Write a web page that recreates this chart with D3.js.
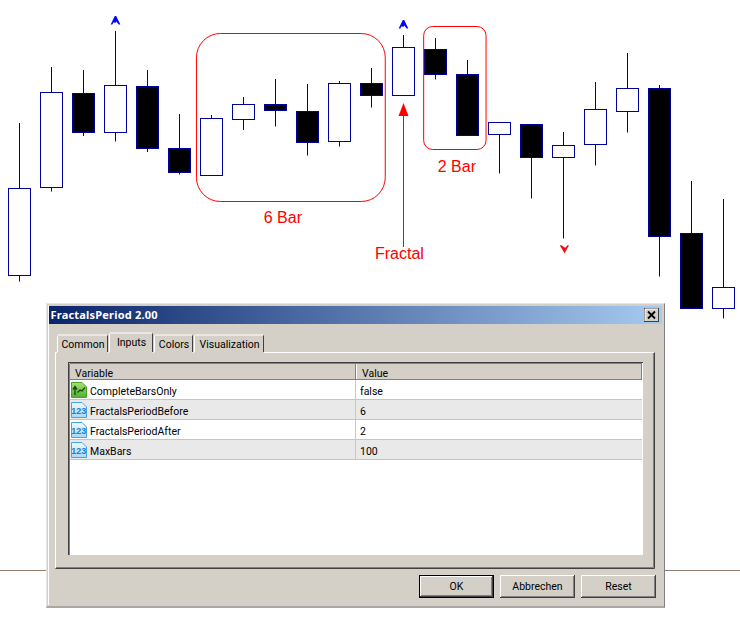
<!DOCTYPE html>
<html><head><meta charset="utf-8">
<script src="https://cdn.jsdelivr.net/npm/d3@7/dist/d3.min.js"></script>
<style>html,body{margin:0;padding:0;background:#fff}svg{display:block}</style>
</head><body><svg id="c" width="740" height="617"></svg>
<script>
// Candle values (chart units)
const highs  = [494,550,547,586,547,503,502,520,538,533,536,549,582,579,557,495,493,485,535,564,532,436,418];
const tops   = [428.5,525,524,532,531,469,498,513,513,506,533,533,569,568,543,495,493,472,508,528,528,383,330];
const bottoms= [341.5,430,485,485,469,444,442,497,507,475,476,521,521,543,482,483,460,460,473,505,381,309,309];
const lows   = [335.5,425.5,481,475.5,465,442.5,442,487,490.5,461.5,470.5,509.5,521,537.5,482,443.5,418.5,378.5,451.5,484.5,340.5,309,298.5];
const filled = [0,0,1,0,1,1,0,0,1,1,0,1,0,1,1,0,1,0,0,0,1,1,0];
const fractalsUp = [3,12];
const fractalsUpLevel = [596.5,592.5];
const fractalsDown = [17];
const fractalsDownLevel = [368];
const boxLabels = ["6 Bar","2 Bar"];
const boxFrom = [5.53,12.63];
const boxTo = [11.43,14.58];
const boxTop = [583.5,590.5];
const boxBottom = [415.5,467.5];
const boxRadius = [24,9];
const boxLabelLevel = [394,445];
const tabs = ["Common","Inputs","Colors","Visualization"];
const variables = ["CompleteBarsOnly","FractalsPeriodBefore","FractalsPeriodAfter","MaxBars"];
const values = ["false","6","2","100"];
const buttons = ["OK","Abbrechen","Reset"];
const columns = ["Variable","Value"];

const svg = d3.select("#c");
const x = d3.scaleLinear().domain([0,22]).range([19.5,723.5]);
const y = d3.scaleLinear().domain([0,617]).range([617,0]);
const crisp = v => Math.floor(y(v)) + .5;
const NAVY="#00009c", RED="#ff0000", FACE="#d4d0c8";

svg.append("line").attr("x1",0).attr("x2",740).attr("y1",y(46.5)).attr("y2",y(46.5)).attr("stroke","#8f7f70");

const c = svg.append("g").selectAll("g").data(highs).join("g");
c.append("line").attr("x1",(d,i)=>x(i)).attr("x2",(d,i)=>x(i))
 .attr("y1",d=>y(d)).attr("y2",(d,i)=>y(lows[i])).attr("stroke",NAVY);
c.append("rect").attr("x",(d,i)=>x(i)-11).attr("width",22)
 .attr("y",(d,i)=>crisp(tops[i])).attr("height",(d,i)=>crisp(bottoms[i])-crisp(tops[i]))
 .attr("fill",(d,i)=>filled[i]?"#000":"#fff").attr("stroke",NAVY)
 .attr("stroke-width",1);

// fractal marks
svg.append("g").selectAll("path").data(fractalsUp).join("path")
 .attr("transform",(d,i)=>`translate(${x(d)},${y(fractalsUpLevel[i])})`)
 .attr("d","M-.7,-4.5H.7L4.8,4H3.2L1,1.3H.5L-.2,2.5L-2,1.8L-3.2,4H-4.8Z").attr("fill","#0000ff");
svg.append("g").selectAll("path").data(fractalsDown).join("path")
 .attr("transform",(d,i)=>`translate(${x(d)+1},${y(fractalsDownLevel[i])})`)
 .attr("d","M0,4.5L4.5,-3.8H3L.8,-1.2L-.2,-1.8L-3,-3.8H-4.8L-1,2.5Z").attr("fill","#f01010");

// annotations
const b = svg.append("g").selectAll("g").data(boxLabels).join("g");
b.append("rect").attr("x",(d,i)=>x(boxFrom[i])).attr("width",(d,i)=>x(boxTo[i])-x(boxFrom[i]))
 .attr("y",(d,i)=>y(boxTop[i])).attr("height",(d,i)=>y(boxBottom[i])-y(boxTop[i])).attr("rx",(d,i)=>boxRadius[i])
 .attr("fill","none").attr("stroke",RED);
b.append("text").text(d=>d).attr("x",(d,i)=>(x(boxFrom[i])+x(boxTo[i]))/2-8*(1-i)+i*2).attr("y",(d,i)=>y(boxLabelLevel[i]))
 .attr("text-anchor","middle").attr("fill",RED).attr("font-family","Liberation Sans").attr("font-size",16);
const ax = x(12);
svg.append("line").attr("x1",ax).attr("x2",ax).attr("y1",y(370)).attr("y2",y(502)).attr("stroke",RED);
svg.append("path").attr("transform",`translate(${ax},${y(514)})`).attr("d","M0,0 L5,13 L-5,13Z").attr("fill",RED);
svg.append("text").text("Fractal").attr("x",375).attr("y",y(358.5)).attr("fill",RED)
 .attr("font-family","Liberation Sans").attr("font-size",16);

// dialog
const defs = svg.append("defs");
const g = defs.append("linearGradient").attr("id","tb");
g.append("stop").attr("offset",0).attr("stop-color","#0a246a");
g.append("stop").attr("offset",1).attr("stop-color","#a6caf0");
const gg = defs.append("linearGradient").attr("id","ig").attr("x1",0).attr("x2",0).attr("y1",0).attr("y2",1);
gg.append("stop").attr("offset",0).attr("stop-color","#a8e070");
gg.append("stop").attr("offset",1).attr("stop-color","#50b030");
const gb = defs.append("linearGradient").attr("id","ib").attr("x1",0).attr("x2",0).attr("y1",0).attr("y2",1);
gb.append("stop").attr("offset",0).attr("stop-color","#f4faff");
gb.append("stop").attr("offset",1).attr("stop-color","#a8d8f8");
const FONT="Roboto";
const D = svg.append("g");
const rect=(px,py,w,h,f,s)=>D.append("rect").attr("x",px).attr("y",py).attr("width",w).attr("height",h).attr("fill",f).attr("stroke",s||"none");
const line=(a,b_,c_,d,s)=>D.append("line").attr("x1",a).attr("y1",b_).attr("x2",c_).attr("y2",d).attr("stroke",s);
const label=(t,px,py,o={})=>D.append("text").text(t).attr("x",px).attr("y",py).attr("font-family",o.family||FONT).attr("font-size",o.size||10.5).attr("font-weight",o.weight||400).attr("fill",o.fill||"#000").attr("text-anchor",o.anchor||"start");
rect(46,303,619,305,FACE);
line(46.5,303.5,664.5,303.5,"#e8e6e0"); line(46.5,303.5,46.5,607.5,"#e8e6e0");
line(48.5,305.5,48.5,605,"#fff");
line(664.5,303.5,664.5,607.5,"#808080"); line(46.5,607,664.5,607,"#808080");
rect(49,306,613,18,"url(#tb)");
label("FractalsPeriod 2.00",50.5,319,{fill:"#fff",weight:700,family:"Noto Sans",size:11}).attr("letter-spacing",.2);
rect(644.5,308.5,14,13,FACE,"#404040"); line(645,309,658,309,"#fff"); line(645,309,645,321,"#fff");
D.append("path").attr("d","M648,311.5L655,318.5M655,311.5L648,318.5").attr("stroke","#000").attr("stroke-width",1.8);

// panel
const tabX = d3.scaleOrdinal().domain(tabs).range([57,109,154,194]);
const tabW = d3.scaleOrdinal().domain(tabs).range([51,44,39,70]);
line(55.5,352.5,654.5,352.5,"#fff"); line(55.5,352.5,55.5,568,"#fff");
line(654.5,352.5,654.5,568.5,"#404040"); line(55.5,568.5,654.5,568.5,"#404040");
line(653.5,353,653.5,567.5,"#808080"); line(56,567.5,653.5,567.5,"#808080");
tabs.forEach(t=>{
  const sel=t==="Inputs", l=tabX(t), w=tabW(t), top=sel?332.5:334.5;
  rect(l,top,w,353-top,FACE);
  line(l+.5,top+1,l+.5,352,"#fff"); line(l+1,top+.5,l+w-1,top+.5,"#fff");
  line(l+w-.5,top+1,l+w-.5,352,"#404040");
  label(t,l+w/2+.5,sel?346:348,{anchor:"middle"});
});
// table
rect(68,363,575,193,"#fff");
line(68.5,363,68.5,555.5,"#404040"); line(68,362.5,643,362.5,"#404040");
line(69.5,363.5,642,363.5,"#808080"); line(69.5,364,69.5,555,"#808080");
line(68,555.5,643.5,555.5,"#d4d0c8"); line(643.5,363,643.5,556,"#d4d0c8");
rect(70,364,572,15,FACE);
line(70,379.5,642,379.5,"#808080");
line(355.5,364,355.5,379,"#808080"); line(356.5,364,356.5,379,"#fff");
line(641.5,364,641.5,380,"#808080");
label(columns[0],75,377); label(columns[1],362,377);
const rowY = d3.scaleBand().domain(variables).range([380,460]);
variables.forEach((v,i)=>{
  const t=rowY(v),h=rowY.bandwidth();
  rect(70,t,572,h,i%2?"#e9e9e9":"#fff");
  line(70,t+h-.5,642,t+h-.5,"#c4c4c4");
  line(355.5,t,355.5,t+h,"#c8c8c8");
  label(v,90,t+15); label(values[i],360,t+15);
  const ig=D.append("g").attr("transform",`translate(71,${t+2})`);
  if(i===0){
    ig.append("path").attr("d","M.5,.5H11L15.5,5V15.5H.5Z").attr("fill","url(#ig)").attr("stroke","#4aa028");
    ig.append("path").attr("d","M4,13V5M2,7.5L4,4.5L6,7.5M6.5,10.5L9,8L11,9L14,5.5").attr("fill","none").attr("stroke","#0c5010").attr("stroke-width",1.4);
  } else {
    ig.append("path").attr("d","M.5,.5H11L15.5,5V15.5H.5Z").attr("fill","url(#ib)").attr("stroke","#40a8f0");
    ig.append("text").text("123").attr("x",7.8).attr("y",12).attr("text-anchor","middle").attr("font-family","Liberation Sans").attr("font-weight",700).attr("font-size",9).attr("fill","#2080c8");
  }
});
// buttons
const btnX = d3.scaleOrdinal().domain(buttons).range([419,500,581]);
buttons.forEach((t,i)=>{
  const l=btnX(t),w=75;
  const ins=i===0?1:0;
  rect(l+ins,575+ins,w-2*ins,23-2*ins,FACE);
  line(l+ins+.5,575.5+ins,l+w-ins-1,575.5+ins,"#fff"); line(l+ins+.5,575.5+ins,l+ins+.5,597-ins,"#fff");
  line(l+w-ins-.5,575+ins,l+w-ins-.5,598-ins,"#404040"); line(l+ins,597.5-ins,l+w-ins,597.5-ins,"#404040");
  line(l+w-ins-1.5,576+ins,l+w-ins-1.5,597-ins,"#808080"); line(l+ins+1,596.5-ins,l+w-ins-1,596.5-ins,"#808080");
  if(i===0){D.append("rect").attr("x",l+.5).attr("y",575.5).attr("width",w-1).attr("height",22).attr("fill","none").attr("stroke","#000");}
  label(t,l+w/2,590,{anchor:"middle"});
});
</script></body></html>
